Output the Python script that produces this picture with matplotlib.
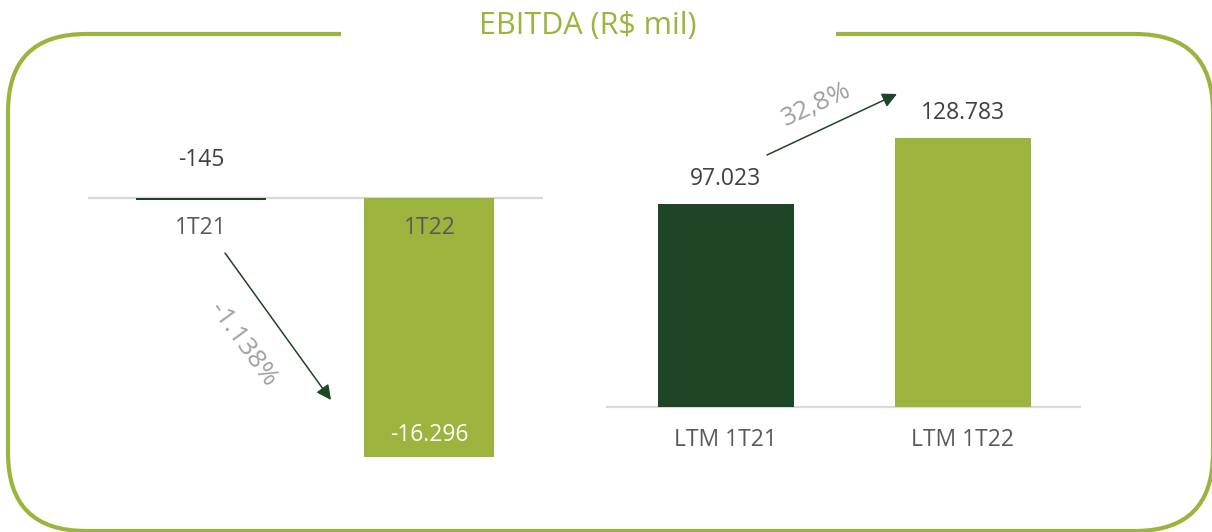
import numpy as np
import matplotlib
matplotlib.use("Agg")
from matplotlib import pyplot as plt
from matplotlib.patches import FancyBboxPatch, Rectangle

# data
quarter_labels = ["1T21", "1T22"]
quarter_values = [-145, -16296]
ltm_labels = ["LTM 1T21", "LTM 1T22"]
ltm_values = [97023, 128783]
quarter_change = "-1.138%"
ltm_change = "32,8%"
title = "EBITDA (R$ mil)"

dark_green = "#1F4527"
light_green = "#9BB43D"
bar_colors = [dark_green, light_green]
value_gray = "#404040"
cat_gray = "#595959"
pct_gray = "#A0A0A0"
axis_gray = "#D9D9D9"

W, H = 1212, 532
plt.rcParams['font.family'] = ['Open Sans', 'DejaVu Sans']

fig = plt.figure(figsize=(W / 100, H / 100), dpi=100)

def pos(x0, x1, y0, y1):
    # pixel box (top-left origin) -> figure fraction
    return [x0 / W, 1 - y1 / H, (x1 - x0) / W, (y1 - y0) / H]

def pt(px):
    return px * 0.72

# background layer in pixel units for the rounded frame and arrows
bg = fig.add_axes([0, 0, 1, 1], zorder=0)
bg.set_xlim(0, W)
bg.set_ylim(H, 0)
bg.set_axis_off()

frame = FancyBboxPatch((8, 34), 1205, 497,
                       boxstyle="round,pad=0,rounding_size=78",
                       fill=False, edgecolor=light_green, linewidth=3)
bg.add_patch(frame)
bg.add_patch(Rectangle((341, 25), 495, 20, facecolor="white", edgecolor="none"))
bg.text(588, 26, title, ha="center", va="center", fontsize=22, color=light_green)

# left panel: quarters
ax1 = fig.add_axes(pos(88, 543, 120, 470), zorder=1)
ax1.patch.set_alpha(0)
x1 = np.arange(len(quarter_values))
ax1.bar(x1, quarter_values, width=0.569, color=bar_colors)
ax1.axhline(0, color=axis_gray, linewidth=1.6, zorder=0)
ax1.set_xlim(-0.495, 1.497)
ax1.set_ylim(-17114, 4908)
ax1.set_axis_off()

ax1.annotate(f"{quarter_values[0]}", (x1[0], 0), xytext=(0, pt(38)),
             textcoords="offset points", ha="center", va="center",
             fontsize=16.5, color=value_gray)
for i, lab in enumerate(quarter_labels):
    ax1.annotate(lab, (x1[i], 0), xytext=(0, -pt(30)),
                 textcoords="offset points", ha="center", va="center",
                 fontsize=16.5, color=cat_gray)
ax1.annotate(f"{quarter_values[1]:,}".replace(",", "."), (x1[1], quarter_values[1]),
             xytext=(0, pt(22)), textcoords="offset points",
             ha="center", va="center", fontsize=16.5, color="white")

# right panel: LTM
ax2 = fig.add_axes(pos(606, 1081, 60, 420), zorder=1)
ax2.patch.set_alpha(0)
x2 = np.arange(len(ltm_values))
ax2.bar(x2, ltm_values, width=0.574, color=bar_colors)
ax2.axhline(0, color=axis_gray, linewidth=1.6, zorder=0)
ax2.set_xlim(-0.506, 1.498)
ax2.set_ylim(-6224, 166126)
ax2.set_axis_off()

for i, v in enumerate(ltm_values):
    ax2.annotate(f"{v:,}".replace(",", "."), (x2[i], v), xytext=(0, pt(25)),
                 textcoords="offset points", ha="center", va="center",
                 fontsize=16.5, color=value_gray)
    ax2.annotate(ltm_labels[i], (x2[i], 0), xytext=(0, -pt(33)),
                 textcoords="offset points", ha="center", va="center",
                 fontsize=16.5, color=cat_gray)

# change arrows
arrow = dict(arrowstyle="-|>", color=dark_green, lw=1.1, mutation_scale=22,
             shrinkA=0, shrinkB=0)
bg.annotate("", xy=(331, 400), xytext=(225, 253), arrowprops=arrow)
bg.annotate("", xy=(897, 94), xytext=(767, 155), arrowprops=arrow)
bg.text(243, 345, quarter_change, rotation=-54, ha="center", va="center",
        fontsize=19, color=pct_gray, rotation_mode="anchor")
bg.text(816, 105, ltm_change, rotation=25, ha="center", va="center",
        fontsize=19, color=pct_gray, rotation_mode="anchor")

fig.savefig("out.png", dpi=100)
